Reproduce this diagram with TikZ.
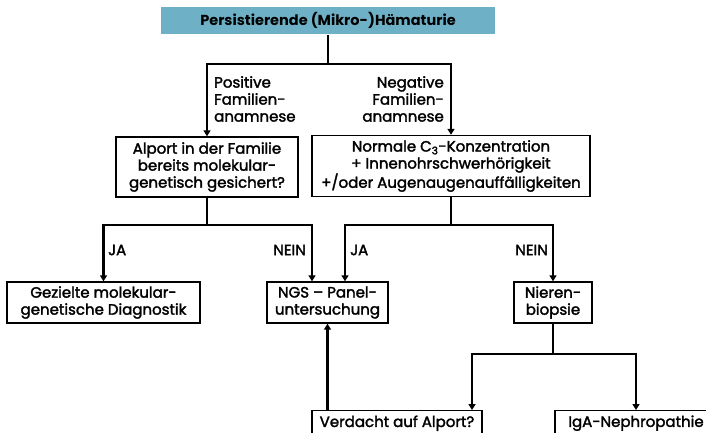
\documentclass[tikz,border=0pt]{standalone}
\usepackage{fontspec}
\setmainfont{Poppins}
\newfontfamily\medfont{Poppins}[FakeBold=2]
\usetikzlibrary{positioning, arrows.meta}
\definecolor{kopfblau}{RGB}{110,177,199}

\begin{document}
\begin{tikzpicture}[
    x=1pt, y=-1pt,
    every node/.style={font=\medfont\fontsize{15}{17}\selectfont},
    box/.style={draw, line width=1.4pt, rectangle, fill=#1, inner sep=2pt, align=center},
    box/.default=white,
    arrow/.style={-{Triangle[length=6pt,width=7pt]}, line width=2.3pt},
    line/.style={line width=2.3pt},
    lbl/.style={inner sep=0pt}
]
    \clip (0,0) rectangle (706,433);

    \node[box=kopfblau, draw=none, minimum width=334pt, minimum height=27pt,
          font=\fontsize{14.5}{17}\selectfont\bfseries] (haem) at (328,20.5) {Persistierende (Mikro-)Hämaturie};
    \node[box, minimum width=182pt, minimum height=60pt] (famil) at (207,167) {Alport in der Familie\\bereits molekular-\\genetisch gesichert?};
    \node[box, minimum width=278pt, minimum height=61pt] (befund) at (451,166) {Normale C\textsubscript{3}-Konzentration\\+ Innenohrschwerhörigkeit\\+/oder Augenaugenauffälligkeiten};
    \node[box, minimum width=193pt, minimum height=41pt] (gezielt) at (103.5,302.5) {Gezielte molekular-\\genetische Diagnostik};
    \node[box, minimum width=121pt, minimum height=41pt] (ngs) at (327.5,302.5) {NGS – Panel-\\untersuchung};
    \node[box, minimum width=78pt, minimum height=41pt] (biopsie) at (553,302.5) {Nieren-\\biopsie};
    \node[box, anchor=north, minimum width=170pt, minimum height=25pt] (verdacht) at (397,410) {Verdacht auf Alport?};
    \node[box, anchor=north, minimum width=162pt, minimum height=25pt] (iga) at (636,410) {IgA-Nephropathie};

    % Beschriftungen
    \node[lbl, align=left, anchor=north west] (posfam) at (214,76) {Positive\\Familien-\\anamnese};
    \node[lbl, align=right, anchor=north east] (negfam) at (444,76) {Negative\\Familien-\\anamnese};
    \node[lbl, anchor=west] (ja1) at (108,250) {JA};
    \node[lbl, anchor=east] (nein1) at (306,250) {NEIN};
    \node[lbl, anchor=west] (ja2) at (350,250) {JA};
    \node[lbl, anchor=east] (nein2) at (548,250) {NEIN};

    \coordinate (gabel1) at (haem.south |- 0,64);
    \coordinate (gabel2) at (famil.south |- 0,225);
    \coordinate (gabel3) at (befund.south |- 0,225);
    \coordinate (gabel4) at (biopsie.south |- 0,354);

    \draw[line] (haem.south) -- (gabel1);
    \draw[arrow] (gabel1) -| (famil.north);
    \draw[arrow] (gabel1) -| (befund.north);
    \draw[line] (famil.south) -- (gabel2);
    \draw[arrow] (gabel2) -| (gezielt.north);
    \draw[arrow] (gabel2) -| ([xshift=-15.5pt]ngs.north);
    \draw[line] (befund.south) -- (gabel3);
    \draw[arrow] (gabel3) -| ([xshift=17.5pt]ngs.north);
    \draw[arrow] (gabel3) -| (biopsie.north);
    \draw[line] (biopsie.south) -- (gabel4);
    \draw[arrow] (gabel4) -| ([xshift=75pt]verdacht.north);
    \draw[arrow] (gabel4) -| (iga.north);
    \draw[arrow] (verdacht.north -| ngs.south) -- (ngs.south);
\end{tikzpicture}
\end{document}
